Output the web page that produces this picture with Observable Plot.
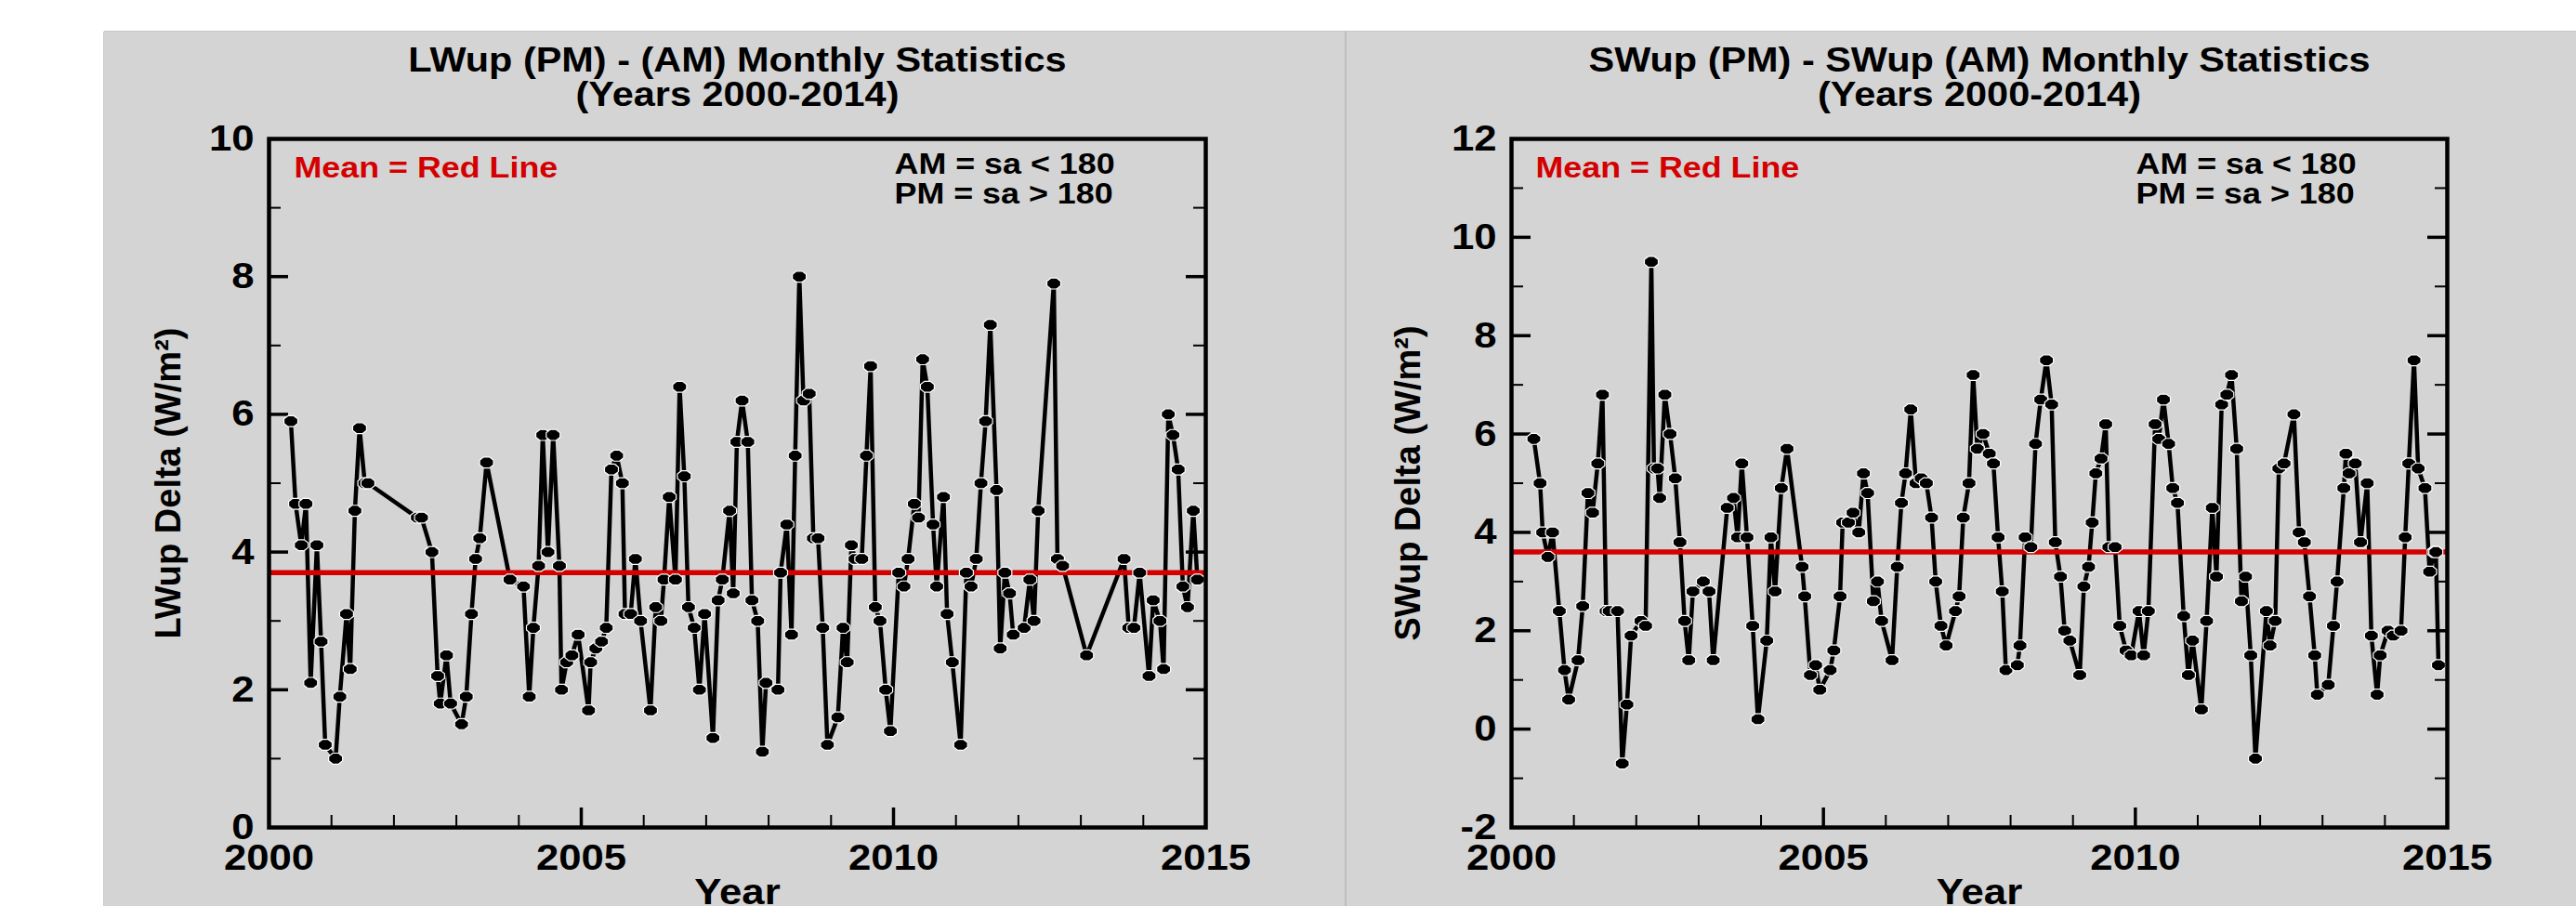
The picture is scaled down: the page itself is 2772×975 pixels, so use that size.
<!DOCTYPE html>
<html>
<head>
<meta charset="utf-8">
<script src="https://cdn.jsdelivr.net/npm/d3@7"></script>
<script src="https://cdn.jsdelivr.net/npm/@observablehq/plot@0.6"></script>
<style>
html, body { margin: 0; padding: 0; background: #ffffff; }
body { width: 2772px; height: 975px; position: relative; overflow: hidden; }
.panel { position: absolute; top: 34px; height: 941px; background: #d4d4d4; }
#left { left: 112px; width: 1336px; }
#right { left: 1448px; width: 1324px; }
.sep { position: absolute; top: 34px; left: 1447px; width: 2px; height: 941px; background: #bebebe; }
.topline { position: absolute; top: 33px; left: 112px; width: 2660px; height: 1px; background: #c6c6c6; }
.leftline { position: absolute; top: 34px; left: 111px; width: 1px; height: 941px; background: #cacaca; }
</style>
</head>
<body>
<div id="left" class="panel"></div>
<div id="right" class="panel"></div>
<div class="sep"></div>
<div class="topline"></div>
<div class="leftline"></div>
<script>
// ---------------- DATA ----------------
// month position = months since January 2000 (as located on the chart)
const lwMonth = [4.2, 5.1, 6.2, 7.1, 8.0, 9.2, 10.0, 10.8, 12.8, 13.6, 14.9, 15.6, 16.5, 17.4, 18.4, 19.0,
  28.5, 29.3, 31.3, 32.4, 32.9, 34.1, 34.9, 37.0, 37.9, 38.9, 39.7, 40.5, 41.8, 46.3, 48.9, 50.0, 50.8,
  51.8, 52.6, 53.6, 54.6, 55.8, 56.2, 57.2, 58.2, 59.4, 61.4, 61.8, 62.8, 63.9, 64.8, 65.8, 66.8, 67.9,
  68.4, 69.5, 70.4, 71.4, 73.3, 74.3, 75.3, 75.9, 76.9, 78.1, 78.9, 79.8, 80.6, 81.7, 82.7, 83.7, 85.3,
  86.3, 87.1, 88.5, 89.2, 89.9, 90.9, 92.0, 92.8, 93.9, 94.8, 95.5, 97.8, 98.3, 99.5, 100.4, 101.1,
  101.9, 102.7, 103.8, 104.6, 105.5, 106.4, 107.3, 109.3, 110.3, 111.1, 111.9, 112.6, 113.9, 114.8,
  115.6, 116.5, 117.4, 118.5, 119.4, 121.0, 122.0, 122.8, 124.0, 124.8, 125.6, 126.5, 127.6, 128.3,
  129.6, 130.3, 131.3, 132.9, 134.0, 134.9, 135.9, 136.8, 137.7, 138.6, 139.8, 140.5, 141.4, 142.3,
  143.0, 145.1, 146.2, 147.0, 147.8, 150.8, 151.5, 152.5, 157.1, 164.3, 165.2, 166.2, 167.3, 169.1,
  169.9, 171.2, 171.9, 172.8, 173.7, 174.7, 175.6, 176.5, 177.6, 178.4];
const lwValue = [5.9, 4.7, 4.1, 4.7, 2.1, 4.1, 2.7, 1.2, 1.0, 1.9, 3.1, 2.3, 4.6, 5.8, 5.0, 5.0,
  4.5, 4.5, 4.0, 2.2, 1.8, 2.5, 1.8, 1.5, 1.9, 3.1, 3.9, 4.2, 5.3, 3.6, 3.5, 1.9, 2.9,
  3.8, 5.7, 4.0, 5.7, 3.8, 2.0, 2.4, 2.5, 2.8, 1.7, 2.4, 2.6, 2.7, 2.9, 5.2, 5.4, 5.0,
  3.1, 3.1, 3.9, 3.0, 1.7, 3.2, 3.0, 3.6, 4.8, 3.6, 6.4, 5.1, 3.2, 2.9, 2.0, 3.1, 1.3,
  3.3, 3.6, 4.6, 3.4, 5.6, 6.2, 5.6, 3.3, 3.0, 1.1, 2.1, 2.0, 3.7, 4.4, 2.8, 5.4,
  8.0, 6.2, 6.3, 4.2, 4.2, 2.9, 1.2, 1.6, 2.9, 2.4, 4.1, 3.9, 3.9, 5.4,
  6.7, 3.2, 3.0, 2.0, 1.4, 3.7, 3.5, 3.9, 4.7, 4.5, 6.8, 6.4, 4.4, 3.5,
  4.8, 3.1, 2.4, 1.2, 3.7, 3.5, 3.9, 5.0, 5.9, 7.3, 4.9, 2.6, 3.7, 3.4,
  2.8, 2.9, 3.6, 3.0, 4.6, 7.9, 3.9, 3.8, 2.5, 3.9, 2.9, 2.9, 3.7, 2.2,
  3.3, 3.0, 2.3, 6.0, 5.7, 5.2, 3.5, 3.2, 4.6, 3.6];
const lwMean = 3.7;

const swMonth = [4.3, 5.5, 6.0, 7.0, 7.9, 9.2, 10.2, 11.0, 12.8, 13.7, 14.7, 15.6, 16.6, 17.5, 18.2, 18.8,
  20.4, 21.3, 22.2, 23.0, 24.9, 25.8, 26.9, 27.4, 28.1, 28.5, 29.5, 30.5, 31.5, 32.4, 33.3, 34.1, 34.9,
  36.9, 38.0, 38.8, 41.5, 42.7, 43.5, 44.3, 45.3, 46.4, 47.4, 49.1, 49.9, 50.7, 51.9, 53.0, 55.9, 56.4,
  57.5, 58.5, 59.3, 61.3, 62.0, 63.2, 63.7, 64.8, 65.7, 66.8, 67.7, 68.5, 69.6, 70.4, 71.2, 73.2, 74.2,
  75.0, 75.8, 76.8, 77.8, 78.8, 79.8, 80.8, 81.6, 82.6, 83.6, 85.4, 86.1, 86.9, 88.0, 88.8, 89.6, 90.7,
  91.9, 92.7, 93.6, 94.4, 95.1, 97.3, 97.8, 98.8, 99.9, 100.8, 101.8, 102.9, 103.9, 104.6, 105.6, 106.4,
  107.4, 109.3, 110.1, 111.0, 111.7, 112.4, 113.4, 114.3, 114.9, 116.1, 117.0, 118.2, 119.2, 120.7,
  121.6, 122.5, 123.8, 124.5, 125.4, 126.4, 127.2, 128.1, 129.3, 130.2, 131.0, 132.7, 133.7, 134.8,
  135.6, 136.6, 137.6, 138.5, 139.5, 140.4, 141.2, 142.2, 143.1, 145.2, 145.9, 146.9, 147.6, 148.6,
  150.5, 151.5, 152.5, 153.5, 154.5, 155.0, 157.1, 158.1, 158.8, 160.1, 160.5, 161.1, 162.3, 163.3,
  164.6, 165.4, 166.5, 167.1, 168.6, 169.6, 171.1, 171.9, 172.6, 173.6, 174.4, 175.7, 176.6, 177.5,
  177.8, 178.3];
const swValue = [5.9, 5.0, 4.0, 3.5, 4.0, 2.4, 1.2, 0.6, 1.4, 2.5, 4.8, 4.4, 5.4, 6.8, 2.4, 2.4,
  2.4, -0.7, 0.5, 1.9, 2.2, 2.1, 9.5, 5.3, 5.3, 4.7, 6.8, 6.0, 5.1, 3.8, 2.2, 1.4, 2.8,
  3.0, 2.8, 1.4, 4.5, 4.7, 3.9, 5.4, 3.9, 2.1, 0.2, 1.8, 3.9, 2.8, 4.9, 5.7, 3.3, 2.7,
  1.1, 1.3, 0.8, 1.2, 1.6, 2.7, 4.2, 4.2, 4.4, 4.0, 5.2, 4.8, 2.6, 3.0, 2.2, 1.4, 3.3,
  4.6, 5.2, 6.5, 5.0, 5.1, 5.0, 4.3, 3.0, 2.1, 1.7, 2.4, 2.7, 4.3, 5.0, 7.2, 5.7, 6.0,
  5.6, 5.4, 3.9, 2.8, 1.2, 1.3, 1.7, 3.9, 3.7, 5.8, 6.7, 7.5, 6.6, 3.8, 3.1, 2.0,
  1.8, 1.1, 2.9, 3.3, 4.2, 5.2, 5.5, 6.2, 3.7, 3.7, 2.1, 1.6, 1.5, 2.4,
  1.5, 2.4, 6.2, 5.9, 6.7, 5.8, 4.9, 4.6, 2.3, 1.1, 1.8, 0.4, 2.2, 4.5,
  3.1, 6.6, 6.8, 7.2, 5.7, 2.6, 3.1, 1.5, -0.6, 2.4, 1.7, 2.2, 5.3, 5.4,
  6.4, 4.0, 3.8, 2.7, 1.5, 0.7, 0.9, 2.1, 3.0, 4.9, 5.6, 5.2, 5.4, 3.8,
  5.0, 1.9, 0.7, 1.5, 2.0, 1.9, 2.0, 3.9, 5.4, 7.5, 5.3, 4.9, 3.2, 3.6,
  3.6, 1.3];
const swMean = 3.6;

const xLabels = [2000, 2005, 2010, 2015];
const xMajorInner = [2005, 2010];
const xMinor = [2001, 2002, 2003, 2004, 2006, 2007, 2008, 2009, 2011, 2012, 2013, 2014];
const lwYLabels = [0, 2, 4, 6, 8, 10];
const lwYMajorInner = [2, 4, 6, 8];
const lwYMinor = [1, 3, 5, 7, 9];
const swYLabels = [-2, 0, 2, 4, 6, 8, 10, 12];
const swYMajorInner = [0, 2, 4, 6, 8, 10];
const swYMinor = [-1, 1, 3, 5, 7, 9, 11];

// ---------------- DRAWING ----------------
const FONT = "'Liberation Sans', Arial, Helvetica, sans-serif";
const RED = "#d40000";
const H_SVG = 941, MT = 115, MB = 85;
const FH = H_SVG - MT - MB;
const STRETCH = 1.12; // the original lettering is slightly wide

// slightly wide octagonal marker like the original
const octagon = {
  draw(ctx, size) {
    const r = Math.sqrt(size / Math.PI);
    const rx = r * 1.08, ry = r * 0.85;
    for (let i = 0; i < 8; i++) {
      const a = Math.PI / 8 + i * Math.PI / 4;
      const px = rx * Math.cos(a), py = ry * Math.sin(a);
      if (i === 0) ctx.moveTo(px, py); else ctx.lineTo(px, py);
    }
    ctx.closePath();
  }
};

// widen horizontal lettering (needs the svg to be in the document)
function widenText(svg) {
  svg.querySelectorAll("text").forEach(el => {
    const t = el.getAttribute("transform") || "";
    if (t.includes("rotate")) return;
    const L = el.getComputedTextLength();
    if (L > 0) {
      el.setAttribute("textLength", (L * STRETCH).toFixed(1));
      el.setAttribute("lengthAdjust", "spacingAndGlyphs");
    }
  });
}

function panel(cfg) {
  const FW = cfg.width - cfg.ml - cfg.mr;
  const data = cfg.months.map((m, i) => ({x: 2000 + m / 12, y: cfg.values[i]}));
  const bold = {fontWeight: "bold", fill: "black"};
  return Plot.plot({
    width: cfg.width,
    height: H_SVG,
    marginTop: MT, marginBottom: MB, marginLeft: cfg.ml, marginRight: cfg.mr,
    style: {background: "transparent", fontFamily: FONT, overflow: "visible"},
    x: {domain: [2000, 2015], axis: null},
    y: {domain: cfg.yDomain, axis: null},
    marks: [
      // ticks (inward)
      Plot.ruleX(xMinor, {x: d => d, insetTop: FH - 13, stroke: "black", strokeWidth: 2}),
      Plot.ruleX(xMajorInner, {x: d => d, insetTop: FH - 21, stroke: "black", strokeWidth: 3.5}),
      Plot.ruleY(cfg.yMinor, {y: d => d, insetRight: FW - 13, stroke: "black", strokeWidth: 2}),
      Plot.ruleY(cfg.yMinor, {y: d => d, insetLeft: FW - 13, stroke: "black", strokeWidth: 2}),
      Plot.ruleY(cfg.yMajorInner, {y: d => d, insetRight: FW - 21, stroke: "black", strokeWidth: 3.5}),
      Plot.ruleY(cfg.yMajorInner, {y: d => d, insetLeft: FW - 21, stroke: "black", strokeWidth: 3.5}),
      // data
      Plot.line(data, {x: "x", y: "y", stroke: "black", strokeWidth: 4.5, strokeLinejoin: "round"}),
      Plot.ruleY([cfg.mean], {y: d => d, stroke: RED, strokeWidth: 5.5}),
      Plot.dot(data, {x: "x", y: "y", r: 7.5, symbol: octagon, fill: "black", stroke: "white", strokeWidth: 1.2}),
      Plot.frame({stroke: "black", strokeWidth: 4.5}),
      // tick labels
      Plot.text(xLabels, {x: d => d, frameAnchor: "bottom", dy: 33, lineAnchor: "middle", text: d => String(d), fontSize: 39, ...bold}),
      Plot.text(cfg.yLabels, {y: d => d, frameAnchor: "left", dx: -16, textAnchor: "end", lineAnchor: "middle", text: d => String(d), fontSize: 39, ...bold}),
      // axis titles
      Plot.text(["Year"], {frameAnchor: "bottom", dy: 82, lineAnchor: "bottom", fontSize: 39, ...bold}),
      Plot.text([cfg.ylabel], {frameAnchor: "left", dx: cfg.ylabelDx, rotate: -90, lineAnchor: "middle", textAnchor: "middle", fontSize: 38, ...bold}),
      // titles
      Plot.text([cfg.title1], {frameAnchor: "top", dy: -73, lineAnchor: "bottom", fontSize: 37, ...bold}),
      Plot.text(["(Years 2000-2014)"], {frameAnchor: "top", dy: -36, lineAnchor: "bottom", fontSize: 37, ...bold}),
      // annotations
      Plot.text(["Mean = Red Line"], {frameAnchor: "top-left", dx: cfg.meanDx, dy: 41, textAnchor: "start", lineAnchor: "bottom", fontSize: 32, fontWeight: "bold", fill: RED}),
      Plot.text(["AM = sa < 180"], {frameAnchor: "top-left", dx: cfg.amDx, dy: 37, textAnchor: "start", lineAnchor: "bottom", fontSize: 32, ...bold}),
      Plot.text(["PM = sa > 180"], {frameAnchor: "top-left", dx: cfg.amDx, dy: 69, textAnchor: "start", lineAnchor: "bottom", fontSize: 32, ...bold})
    ]
  });
}

const leftSvg = panel({
  width: 1336, ml: 177, mr: 151,
  yDomain: [0, 10], yLabels: lwYLabels, yMajorInner: lwYMajorInner, yMinor: lwYMinor,
  months: lwMonth, values: lwValue, mean: lwMean,
  title1: "LWup (PM) - (AM) Monthly Statistics",
  ylabel: "LWup Delta (W/m²)", ylabelDx: -108,
  meanDx: 27, amDx: 673
});
document.getElementById("left").appendChild(leftSvg);
widenText(leftSvg);

const rightSvg = panel({
  width: 1324, ml: 178, mr: 139,
  yDomain: [-2, 12], yLabels: swYLabels, yMajorInner: swYMajorInner, yMinor: swYMinor,
  months: swMonth, values: swValue, mean: swMean,
  title1: "SWup (PM) - SWup (AM) Monthly Statistics",
  ylabel: "SWup Delta (W/m²)", ylabelDx: -111,
  meanDx: 26, amDx: 672
});
document.getElementById("right").appendChild(rightSvg);
widenText(rightSvg);
</script>
</body>
</html>
